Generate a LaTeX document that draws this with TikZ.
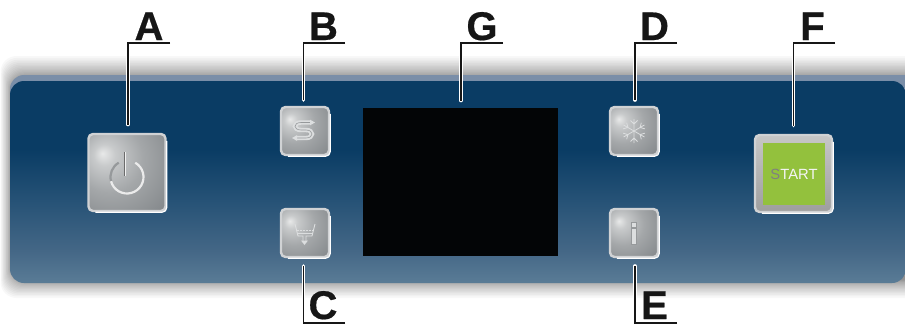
\documentclass[tikz,border=0pt]{standalone}
\usepackage{fontspec}
\setmainfont{Liberation Sans}
\newfontfamily\tagfont[BoldFeatures={FakeBold=0.5}]{Liberation Sans}
\definecolor{panA}{RGB}{10,60,100}
\definecolor{panB}{RGB}{38,82,118}
\definecolor{panC}{RGB}{68,103,134}
\definecolor{panD}{RGB}{90,124,150}
\definecolor{btnA}{RGB}{232,233,233}
\definecolor{btnB}{RGB}{200,202,203}
\definecolor{btnC}{RGB}{164,167,169}
\definecolor{btnD}{RGB}{134,138,141}
\definecolor{stripc}{RGB}{122,142,168}
\definecolor{edgec}{RGB}{208,210,212}
\definecolor{greenc}{RGB}{147,193,61}
\definecolor{inkc}{RGB}{22,22,22}
\definecolor{iconc}{RGB}{220,222,223}
\definecolor{iconb}{RGB}{150,153,155}
\definecolor{screenc}{RGB}{3,5,6}
\pgfdeclareverticalshading{panelsh}{100bp}{color(0bp)=(panD); color(25bp)=(panD); color(33bp)=(panC); color(45.5bp)=(panB); color(58bp)=(panA); color(100bp)=(panA)}
\pgfdeclareradialshading{btnsh}{\pgfpoint{-16bp}{12.5bp}}{color(0bp)=(btnA); color(7bp)=(btnB); color(22bp)=(btnC); color(42bp)=(btnD); color(80bp)=(btnD)}
\tikzset{
  x=1pt,y=-1pt,
  tagl/.style={font=\tagfont\bfseries\fontsize{40}{40}\selectfont,text=inkc,anchor=base,inner sep=0pt},
  btnbase/.style={rounded corners=4.5pt,draw=edgec,line width=2.4pt,shading=btnsh,inner sep=0pt,minimum size=#1},
  halo/.style={white,line width=3.6pt,line cap=round},
  leader/.style={inkc,line width=1.9pt,line cap=butt},
  glint/.style={white,line width=1.2pt,rounded corners=4.5pt},
  icon/.style={iconc,line width=.9pt},
  icondbl/.style={iconc,line width=1.9pt,double=iconb,double distance=.6pt}
}
\begin{document}
\begin{tikzpicture}
\useasboundingbox (0,0) rectangle (905,327);
\clip (0,0) rectangle (905,327);
\fill[white] (0,0) rectangle (905,327);
% soft shadow round the panel
\foreach \i in {1,...,18}{
  \pgfmathsetmacro{\k}{(\i/18)^1.6}
  \fill[black,opacity=.026,rounded corners=16pt] (11-10.5*\k,77-21*\k) rectangle (930,280+18*\k);
}
% panel
\fill[stripc,rounded corners=14pt] (10,75) rectangle (925,200);
\shade[shading=panelsh,rounded corners=14pt] (10,81) rectangle (906,283);
% screen
\node[fill=screenc,inner sep=0pt,minimum width=195pt,minimum height=148pt] (screen) at (460.5,182) {};
% buttons
\node[btnbase=77pt] (bA) at (127,172.5) {};
\node[btnbase=48pt] (bB) at (305,131) {};
\node[btnbase=48pt] (bC) at (305,233) {};
\node[btnbase=48pt] (bD) at (634,131) {};
\node[btnbase=48pt] (bE) at (634,233) {};
\node[btnbase=77pt,top color=black!22,bottom color=black!38] (bF) at (793.5,173.5) {};
\foreach \n in {bA,bB,bC,bD,bE,bF}{
  \draw[glint] ([xshift=8pt]\n.south west) -- (\n.south east) -- ([yshift=-8pt]\n.north east);
}
\node[fill=greenc,inner sep=0pt,minimum size=62pt,font=\fontsize{14.8}{14.8}\selectfont,text=white!92!gray] (go) at (794,174) {\textcolor{black!50}{S}TART};
% power icon
\draw[line width=2.2pt,iconb] (127,177) ++(-120:16.5) arc[start angle=-120,end angle=-195,radius=16.5];
\draw[line width=2.2pt,black!8] (127,177) ++(-195:16.5) arc[start angle=-195,end angle=-420,radius=16.5];
\draw[line width=1.2pt,black!58] (124.6,152) -- (124.6,176);
\draw[line width=1.1pt,black!6] (125.8,152) -- (125.8,176);
% flow icon
\draw[icondbl] (311,122.5) -- (301,122.5) .. controls (293,122.5) and (293,130) .. (301,130) -- (306,130) .. controls (314,130) and (314,138) .. (306,138) -- (295,138);
\fill[iconc] (315,122.5) -- (310,119.7) -- (310,125.3) -- cycle;
\fill[iconc] (292,138) -- (297,135.2) -- (297,140.8) -- cycle;
% drain icon
\draw[icon] (295,224) -- (298,236) -- (303,236) -- (303,241);
\draw[icon] (315,224) -- (312,236) -- (306,236) -- (306,241);
\draw[icon,dash pattern=on 2pt off 1pt] (296.5,230) -- (313.5,230);
\draw[icon] (298,233) -- (312,233);
\fill[iconc] (304.5,245) -- (301,240.5) -- (308,240.5) -- cycle;
% snowflake icon
\begin{scope}[shift={(634,131)}]
\foreach \a in {30,90,...,330}{
  \draw[iconc,line width=.8pt,rotate=\a] (0,0) -- (12,0) (7,0) -- (10.5,-3.5) (7,0) -- (10.5,3.5);
}
\end{scope}
% info icon
\fill[iconc,draw=iconb,line width=.4pt] (631.5,222.5) rectangle (636.5,226.8);
\fill[iconc,draw=iconb,line width=.4pt] (631.5,228.5) rectangle (636.5,244);
% tags
\node[tagl] (tA) at (149,40) {A};
\node[tagl] (tB) at (323.5,40) {B};
\node[tagl] (tD) at (654.5,40) {D};
\node[tagl] (tF) at (812.5,40) {F};
\node[tagl] (tG) at (482,40) {G};
\node[tagl] (tC) at (323,319) {C};
\node[tagl] (tE) at (654.5,319) {E};
% connector corners and free ends
\coordinate (rA) at (170,43); \coordinate (eA) at (128,124.5);
\coordinate (rB) at (345,43); \coordinate (eB) at (303.5,100);
\coordinate (rD) at (677,43); \coordinate (eD) at (635,100);
\coordinate (rF) at (835,43); \coordinate (eF) at (793.5,125.5);
\coordinate (rG) at (503,43); \coordinate (eG) at (461,100.5);
\coordinate (rC) at (345,323); \coordinate (eC) at (303.5,266);
\coordinate (rE) at (677,323); \coordinate (eE) at (635,266);
\foreach \n in {A,B,C,D,E,F,G}{
  \draw[halo] (r\n -| e\n) -- (e\n);
  \draw[leader] (r\n) -- (r\n -| e\n) -- (e\n);
}
\end{tikzpicture}
\end{document}
